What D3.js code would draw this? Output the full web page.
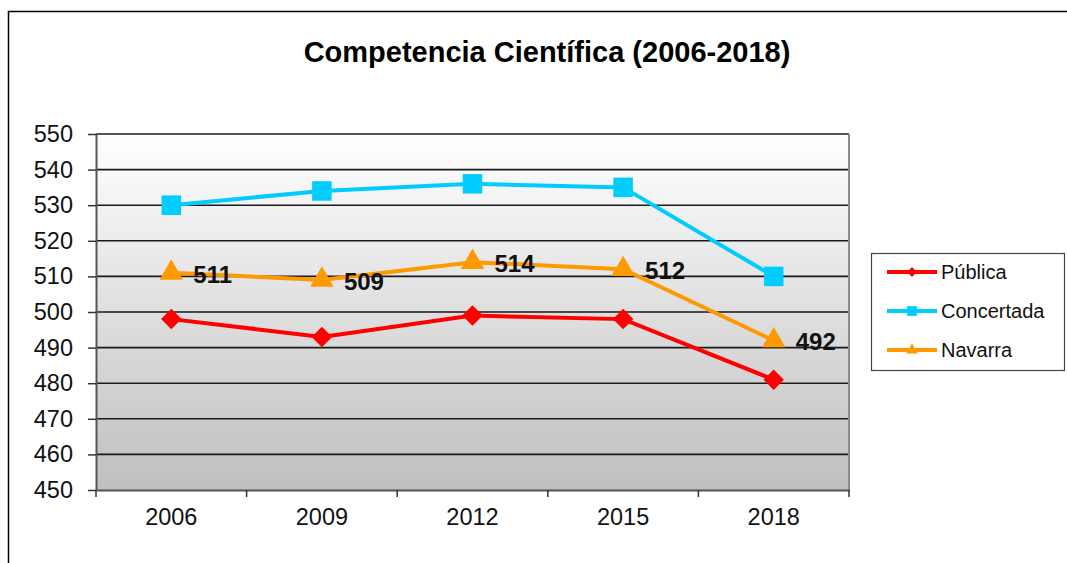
<!DOCTYPE html>
<html>
<head>
<meta charset="utf-8">
<script src="https://cdn.jsdelivr.net/npm/d3@7"></script>
<style>
  body { margin: 0; background: #fff; }
  svg text { font-family: "Liberation Sans", Arial, sans-serif; }
</style>
</head>
<body>
<div id="chart"></div>
<script>
// data
var years = ["2006", "2009", "2012", "2015", "2018"];
var publica = [498, 493, 499, 498, 481];
var concertada = [530, 534, 536, 535, 510];
var navarra = [511, 509, 514, 512, 492];
var seriesNames = ["Pública", "Concertada", "Navarra"];
var yTicks = [450, 460, 470, 480, 490, 500, 510, 520, 530, 540, 550];

var width = 1067, height = 563;
var plot = { left: 96, top: 134, right: 849, bottom: 490 };

var svg = d3.select("#chart").append("svg")
  .attr("width", width)
  .attr("height", height);

// outer frame (right / bottom sides are cut off in the original)
svg.append("rect")
  .attr("x", 8.5).attr("y", 11.5)
  .attr("width", width + 20).attr("height", height + 20)
  .attr("fill", "none")
  .attr("stroke", "#000")
  .attr("stroke-width", 1.5);

// title
svg.append("text")
  .attr("x", 547).attr("y", 62)
  .attr("text-anchor", "middle")
  .attr("font-size", 29)
  .attr("font-weight", "bold")
  .text("Competencia Científica (2006-2018)");

var x = d3.scaleBand().domain(years).range([plot.left, plot.right]).padding(0);
var y = d3.scaleLinear().domain([450, 550]).range([plot.bottom, plot.top]);

// gradient background
var defs = svg.append("defs");
var grad = defs.append("linearGradient")
  .attr("id", "bg").attr("x1", 0).attr("y1", 0).attr("x2", 0).attr("y2", 1);
grad.append("stop").attr("offset", "0%").attr("stop-color", "#ffffff");
grad.append("stop").attr("offset", "100%").attr("stop-color", "#bfbfbf");

svg.append("rect")
  .attr("x", plot.left).attr("y", plot.top)
  .attr("width", plot.right - plot.left)
  .attr("height", plot.bottom - plot.top)
  .attr("fill", "url(#bg)");

// gridlines
svg.append("g").selectAll("line")
  .data(yTicks.slice(1, -1))
  .enter().append("line")
  .attr("x1", plot.left).attr("x2", plot.right)
  .attr("y1", function(d) { return y(d); })
  .attr("y2", function(d) { return y(d); })
  .attr("stroke", "#1a1a1a")
  .attr("stroke-width", 1.6);

// plot border: top dark, right gray
svg.append("line")
  .attr("x1", plot.left).attr("x2", plot.right)
  .attr("y1", plot.top).attr("y2", plot.top)
  .attr("stroke", "#555").attr("stroke-width", 2);
svg.append("line")
  .attr("x1", plot.right).attr("x2", plot.right)
  .attr("y1", plot.top).attr("y2", plot.bottom)
  .attr("stroke", "#8c8c8c").attr("stroke-width", 2);

// y axis
var yAxis = svg.append("g")
  .attr("transform", "translate(" + plot.left + ",0)")
  .call(d3.axisLeft(y).tickValues(yTicks).tickSize(8).tickPadding(15).tickSizeOuter(0));
yAxis.select(".domain").attr("stroke", "#555").attr("stroke-width", 2);
yAxis.selectAll(".tick line").attr("stroke", "#333").attr("stroke-width", 1.5);
yAxis.selectAll(".tick text")
  .attr("font-size", 23.5)
  .attr("fill", "#111")
  .attr("font-family", "Liberation Sans, Arial, sans-serif");

// x axis: ticks at category boundaries
var xAxis = svg.append("g")
  .attr("transform", "translate(0," + plot.bottom + ")")
  .call(d3.axisBottom(x).tickSize(0).tickPadding(18));
xAxis.select(".domain").attr("stroke", "#555").attr("stroke-width", 2);
xAxis.selectAll(".tick text")
  .attr("font-size", 23.5)
  .attr("fill", "#111")
  .attr("font-family", "Liberation Sans, Arial, sans-serif");
var bounds = years.map(function(d) { return x(d); }).concat([x.range()[1]]);
xAxis.selectAll(".bound")
  .data(bounds)
  .enter().append("line")
  .attr("class", "bound")
  .attr("x1", function(d) { return d; }).attr("x2", function(d) { return d; })
  .attr("y1", 0).attr("y2", 7)
  .attr("stroke", "#333").attr("stroke-width", 1.5);

var series = [
  { name: seriesNames[0], values: publica, color: "#ff0000", symbol: d3.symbolSquare, size: 210, rot: 45 },
  { name: seriesNames[1], values: concertada, color: "#00ccff", symbol: d3.symbolSquare, size: 380, rot: 0 },
  { name: seriesNames[2], values: navarra, color: "#ff9900", symbol: d3.symbolTriangle, size: 240, rot: 0 }
];

var line = d3.line()
  .x(function(d, i) { return x(years[i]) + x.bandwidth() / 2; })
  .y(function(d) { return y(d); });

series.forEach(function(s) {
  var g = svg.append("g");
  g.append("path")
    .datum(s.values)
    .attr("d", line)
    .attr("fill", "none")
    .attr("stroke", s.color)
    .attr("stroke-width", 4);
  g.selectAll("path.marker")
    .data(s.values)
    .enter().append("path")
    .attr("class", "marker")
    .attr("transform", function(d, i) {
      return "translate(" + (x(years[i]) + x.bandwidth() / 2) + "," + y(d) + ") rotate(" + s.rot + ")";
    })
    .attr("d", d3.symbol().type(s.symbol).size(s.size))
    .attr("fill", s.color);
});

// data labels for Navarra
svg.append("g").selectAll("text")
  .data(navarra)
  .enter().append("text")
  .attr("x", function(d, i) { return x(years[i]) + x.bandwidth() / 2 + 22; })
  .attr("y", function(d) { return y(d) + 10; })
  .attr("font-size", 24)
  .attr("font-weight", "bold")
  .attr("fill", "#111")
  .text(function(d) { return d; });

// legend
var legend = svg.append("g").attr("transform", "translate(871,253)");
legend.append("rect")
  .attr("x", 0.5).attr("y", 0.5)
  .attr("width", 193).attr("height", 117)
  .attr("fill", "#fff")
  .attr("stroke", "#444")
  .attr("stroke-width", 1.2);
series.forEach(function(s, i) {
  var ly = 19 + i * 39;
  legend.append("line")
    .attr("x1", 16).attr("x2", 66)
    .attr("y1", ly).attr("y2", ly)
    .attr("stroke", s.color).attr("stroke-width", 4);
  legend.append("path")
    .attr("transform", "translate(41," + ly + ") rotate(" + s.rot + ")")
    .attr("d", d3.symbol().type(s.symbol).size(s.size / 4))
    .attr("fill", s.color);
  legend.append("text")
    .attr("x", 70).attr("y", ly + 7)
    .attr("font-size", 20)
    .attr("fill", "#111")
    .text(s.name);
});
</script>
</body>
</html>
